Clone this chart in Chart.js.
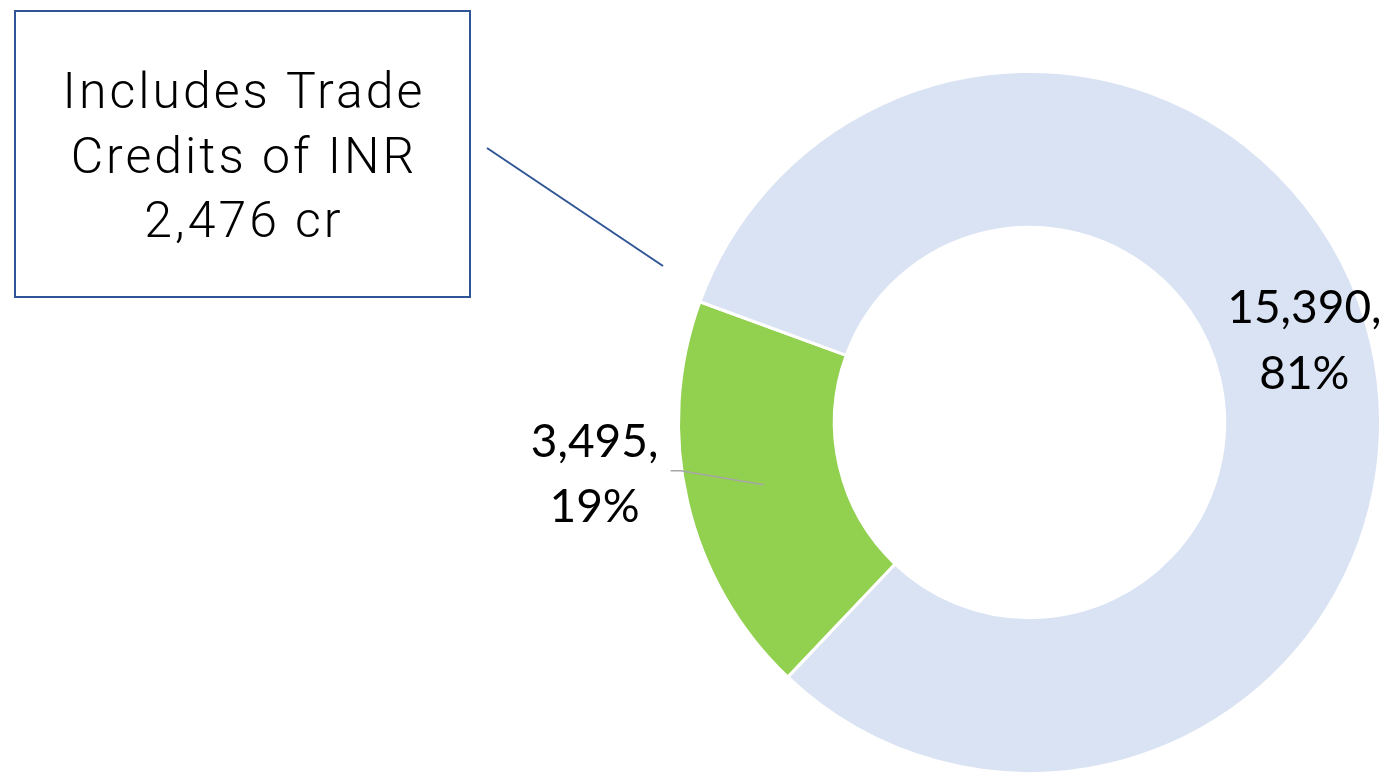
<!DOCTYPE html>
<html>
<head>
<meta charset="utf-8">
<title>Borrowings</title>
<script src="https://cdn.jsdelivr.net/npm/chart.js@4/dist/chart.umd.min.js"></script>
<style>
    html, body { margin: 0; padding: 0; background: #ffffff; }
    #debt-chart { display: block; }
</style>
</head>
<body>
<canvas id="debt-chart" width="1393" height="775"></canvas>
<script>
var categories = ['Other Borrowings', 'Term Loans'];
var amounts = [3495, 15390];
var percentLabels = ['19%', '81%'];
var sliceColors = ['#92D050', '#DAE3F3'];
var calloutLines = ['Includes Trade', 'Credits of INR', '2,476 cr'];

function formatAmount(v) {
    return v.toLocaleString('en-US');
}

// callout box, leader lines and the value labels on top of the doughnut
var annotations = {
    id: 'annotations',
    afterDraw: function(chart) {
        var ctx = chart.ctx;
        var arcs = chart.getDatasetMeta(0).data;
        ctx.save();

        // note box
        ctx.strokeStyle = '#2F5597';
        ctx.lineWidth = 2;
        ctx.strokeRect(15, 11, 455, 286);
        ctx.fillStyle = '#000000';
        ctx.font = '300 50px Roboto, "DejaVu Sans", sans-serif';
        ctx.letterSpacing = '3px';
        ctx.textAlign = 'center';
        ctx.textBaseline = 'alphabetic';
        calloutLines.forEach(function(line, i) {
            ctx.fillText(line, 244, 108 + i * 64.5);
        });
        ctx.letterSpacing = '0px';
        ctx.beginPath();
        ctx.moveTo(487, 148);
        ctx.lineTo(663, 266);
        ctx.stroke();

        ctx.font = '46px Lato, "Open Sans", sans-serif';

        // small slice: label pulled out to the left with a grey leader
        var p0 = arcs[0].getCenterPoint();
        var elbowX = p0.x - 83, elbowY = p0.y - 14;
        ctx.strokeStyle = '#A6A6A6';
        ctx.lineWidth = 1.5;
        ctx.beginPath();
        ctx.moveTo(p0.x, p0.y);
        ctx.lineTo(elbowX, elbowY);
        ctx.lineTo(elbowX - 10, elbowY);
        ctx.stroke();
        ctx.fillStyle = '#000000';
        ctx.fillText(formatAmount(amounts[0]) + ',', elbowX - 86, elbowY - 14);
        ctx.fillText(percentLabels[0], elbowX - 86, elbowY + 51);

        // large slice: label sits on the ring
        var p1 = arcs[1].getCenterPoint();
        ctx.fillText(formatAmount(amounts[1]) + ',', p1.x + 9, p1.y - 37.5);
        ctx.fillText(percentLabels[1], p1.x + 9, p1.y + 28.5);

        ctx.restore();
    }
};

var ctx = document.getElementById('debt-chart').getContext('2d');
var debtChart = new Chart(ctx, {
    type: 'doughnut',
    data: {
        labels: categories,
        datasets: [{
            data: amounts,
            backgroundColor: sliceColors,
            borderColor: '#ffffff',
            borderWidth: 3
        }]
    },
    options: {
        responsive: false,
        animation: false,
        events: [],
        rotation: 223.5,
        cutout: '55.6%',
        layout: {
            padding: { left: 677, right: 11, top: 70, bottom: 0 }
        },
        plugins: {
            legend: { display: false },
            tooltip: { enabled: false }
        }
    },
    plugins: [annotations]
});
</script>
</body>
</html>
